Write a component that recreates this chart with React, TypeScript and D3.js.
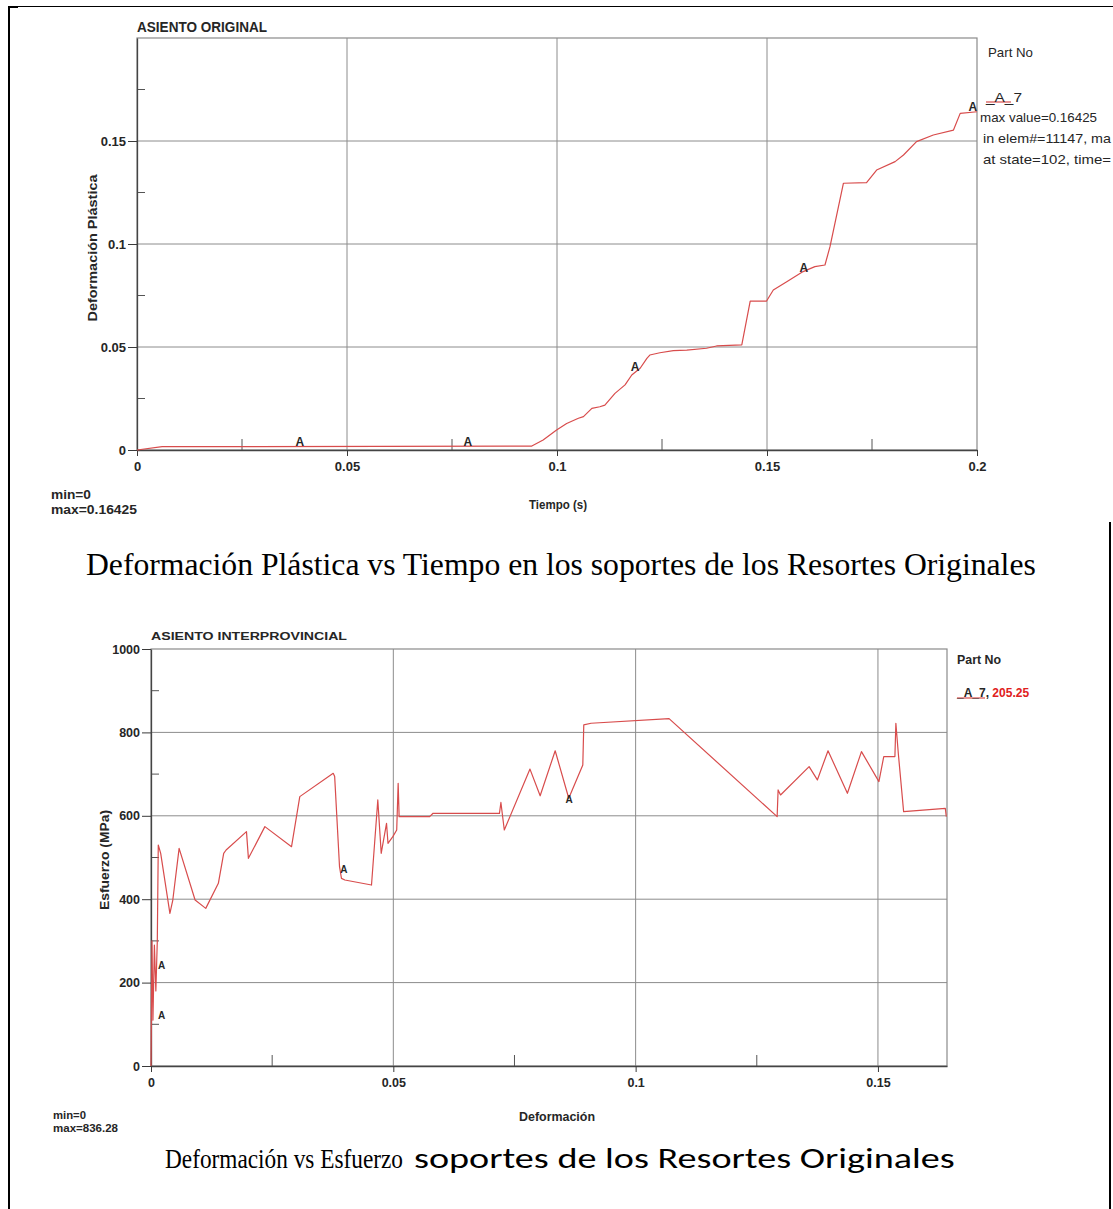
import React, { useRef, useEffect } from "react";
import * as d3 from "d3";

const W = 1113;
const H = 1209;

const NARROW = "'Liberation Sans Narrow', 'Arial Narrow', 'Liberation Sans', Arial, sans-serif";
const SANS = "'Liberation Sans', Arial, sans-serif";
const SERIF = "'Liberation Serif', 'Times New Roman', serif";
const CALIBRI = "Carlito, Lato, 'Open Sans', sans-serif";
const INK = "#262626";
const CURVE = "#d84c4c";

// --- panel 1: plastic strain vs time
const timeS = [0, 0.006, 0.094, 0.0967, 0.0999, 0.1023, 0.1051, 0.1063, 0.1083, 0.1102, 0.1114, 0.1138, 0.1162,
  0.1178, 0.1198, 0.1214, 0.1221, 0.1245, 0.1277, 0.1309, 0.1356, 0.138, 0.144,
  0.146, 0.1499, 0.1515, 0.1547, 0.1586, 0.1614, 0.1638, 0.165, 0.1682, 0.1737,
  0.1761, 0.1805, 0.1825, 0.1856, 0.1896, 0.1944, 0.196, 0.2];
const plasticStrain = [0, 0.0016, 0.0019, 0.0049, 0.0097, 0.0129, 0.0154, 0.0162, 0.0202, 0.021, 0.0218, 0.0275, 0.0316,
  0.0364, 0.0397, 0.0445, 0.0461, 0.0472, 0.0482, 0.0485, 0.0494, 0.0505, 0.051,
  0.0723, 0.0723, 0.0777, 0.0817, 0.0866, 0.089, 0.0898, 0.0987, 0.1295, 0.1298,
  0.1359, 0.14, 0.1432, 0.1497, 0.1529, 0.1553, 0.1634, 0.1642];
const topMarkerT = [0.0388, 0.0788, 0.1186, 0.1588, 0.199];
const topMarkerV = [0.0039, 0.0039, 0.0403, 0.0883, 0.1665];
const topXTicks = [0, 0.05, 0.1, 0.15, 0.2];
const topYTicks = [0, 0.05, 0.1, 0.15];
const topMinor = [0.025, 0.075, 0.125, 0.175];

// --- panel 2: stress vs strain
const strain = [0, 0.0002, 0.0004, 0.0007, 0.001, 0.0013, 0.0015, 0.002, 0.0039, 0.0045, 0.0058, 0.0091, 0.0113,
  0.0139, 0.015, 0.0155, 0.0197, 0.0201, 0.0235, 0.029, 0.0307, 0.0376, 0.0379, 0.0389, 0.0393, 0.04,
  0.0455, 0.0468, 0.0475, 0.0486, 0.0489, 0.0499, 0.0507, 0.051, 0.0512, 0.0575, 0.0582, 0.0719, 0.0722,
  0.0729, 0.0782, 0.0803, 0.0834, 0.0862, 0.0891, 0.0893, 0.0908, 0.1069, 0.1292, 0.1294, 0.1299, 0.1358,
  0.1375, 0.1397, 0.1437, 0.1466, 0.1502, 0.1512, 0.1535, 0.1537, 0.1542, 0.1553, 0.1639, 0.1641];
const stressMPa = [0, 300, 110, 290, 180, 300, 530, 510, 366, 398, 522, 398, 378,
  438, 510, 518, 562, 498, 574, 526, 646, 702, 694, 478, 450, 446,
  434, 638, 510, 582, 534, 550, 566, 678, 598, 598, 606, 606, 632,
  566, 712, 648, 756, 642, 722, 818, 822, 833, 598, 662, 650, 718,
  686, 756, 654, 754, 682, 742, 742, 822, 750, 610, 618, 598];
const botMarkerT = [0.0022, 0.0022, 0.0398, 0.0863];
const botMarkerV = [242, 122, 472, 638];
const botXTicks = [0, 0.05, 0.1, 0.15];
const botYTicks = [0, 200, 400, 600, 800, 1000];
const botXMinor = [0.025, 0.075, 0.125];
const botYMinor = [100, 300, 500, 700, 900];

type Sel = d3.Selection<SVGSVGElement, unknown, null, undefined>;

type Panel = {
  x: d3.ScaleLinear<number, number>;
  y: d3.ScaleLinear<number, number>;
  xs: number[];
  ys: number[];
  xTicks: number[];
  yTicks: number[];
  xMinor: number[];
  yMinor: number[];
  markT: number[];
  markV: number[];
  font: string;
  size: number;
  weight: string;
  markSize: number;
  xPad: number;
  yTick: number;
};

function drawPanel(svg: Sel, p: Panel) {
  const [x0, x1] = p.x.range();
  const [y0, y1] = p.y.range();
  const g = svg.append("g");

  // grid
  g.selectAll(".vg").data(p.xTicks.filter((d) => d > 0 && p.x(d) < x1 - 2)).join("line")
    .attr("x1", (d) => p.x(d)).attr("x2", (d) => p.x(d)).attr("y1", y0).attr("y2", y1)
    .attr("stroke", "#8c8c8c").attr("stroke-width", 1);
  g.selectAll(".hg").data(p.yTicks.filter((d) => d > 0 && p.y(d) > y1 + 2)).join("line")
    .attr("x1", x0).attr("x2", x1).attr("y1", (d) => p.y(d)).attr("y2", (d) => p.y(d))
    .attr("stroke", "#8c8c8c").attr("stroke-width", 1);

  // frame
  g.append("rect").attr("x", x0).attr("y", y1).attr("width", x1 - x0).attr("height", y0 - y1)
    .attr("fill", "none").attr("stroke", "#8a8a8a").attr("stroke-width", 1.2);

  // minor ticks (inward)
  g.selectAll(".mx").data(p.xMinor).join("line")
    .attr("x1", (d) => p.x(d)).attr("x2", (d) => p.x(d)).attr("y1", y0).attr("y2", y0 - 11)
    .attr("stroke", "#555");
  g.selectAll(".my").data(p.yMinor).join("line")
    .attr("x1", x0).attr("x2", x0 + 8).attr("y1", (d) => p.y(d)).attr("y2", (d) => p.y(d))
    .attr("stroke", "#555");

  // axes
  const ax = g.append("g").attr("transform", `translate(0,${y0})`)
    .call(d3.axisBottom(p.x).tickValues(p.xTicks).tickFormat((d) => String(d)).tickSize(6).tickSizeOuter(0).tickPadding(p.xPad));
  const ay = g.append("g").attr("transform", `translate(${x0},0)`)
    .call(d3.axisLeft(p.y).tickValues(p.yTicks).tickFormat((d) => String(d)).tickSize(p.yTick).tickSizeOuter(0).tickPadding(2));
  [ax, ay].forEach((a) => {
    a.attr("color", "#3a3a3a").attr("font-family", p.font).attr("font-size", p.size).attr("font-weight", p.weight);
    a.selectAll("text").attr("fill", INK);
    a.select(".domain").attr("stroke", "#444").attr("stroke-width", 1.3);
  });

  // curve
  const pts = p.xs.map((v, i) => [v, p.ys[i]] as [number, number]);
  g.append("path").datum(pts)
    .attr("d", d3.line<[number, number]>().x((d) => p.x(d[0])).y((d) => p.y(d[1])))
    .attr("fill", "none").attr("stroke", CURVE).attr("stroke-width", 1.2).attr("stroke-linejoin", "round");

  // "A" markers
  g.selectAll(".mk").data(p.markT.map((t, i) => [t, p.markV[i]])).join("text")
    .attr("x", (d) => p.x(d[0])).attr("y", (d) => p.y(d[1]))
    .attr("text-anchor", "middle").attr("dominant-baseline", "central")
    .attr("font-family", p.font).attr("font-size", p.markSize).attr("font-weight", "bold")
    .attr("fill", INK).text("A");
}

function label(svg: Sel, txt: string, x: number, y: number,
  o: { font?: string; size?: number; weight?: string; anchor?: string; rotate?: boolean; fill?: string; len?: number } = {}) {
  const t = svg.append("text")
    .attr("transform", o.rotate ? `translate(${x},${y}) rotate(-90)` : `translate(${x},${y})`)
    .attr("text-anchor", o.anchor ?? "start").attr("dominant-baseline", "central")
    .attr("font-family", o.font ?? NARROW).attr("font-size", o.size ?? 13)
    .attr("font-weight", o.weight ?? "normal").attr("fill", o.fill ?? INK).text(txt);
  if (o.len) t.attr("textLength", o.len).attr("lengthAdjust", "spacingAndGlyphs");
  return t;
}

// caption text squeezed/stretched to a given width with a transform
function caption(svg: Sel, txt: string, x: number, y: number, width: number, font: string, size: number) {
  const t = svg.append("text").attr("x", 0).attr("y", 0)
    .attr("font-family", font).attr("font-size", size).attr("fill", "#000").text(txt);
  const natural = (t.node() as SVGTextElement).getComputedTextLength() || width;
  t.attr("transform", `translate(${x},${y}) scale(${width / natural},1)`);
}

const App: React.FC = () => {
  const ref = useRef<SVGSVGElement>(null);

  useEffect(() => {
    if (!ref.current) return;
    const svg = d3.select(ref.current);
    svg.selectAll("*").remove();

    svg.append("rect").attr("width", W).attr("height", H).attr("fill", "#fff");

    // page border
    svg.append("line").attr("x1", 8).attr("x2", W).attr("y1", 6.5).attr("y2", 6.5).attr("stroke", "#000").attr("stroke-width", 1.2);
    svg.append("rect").attr("x", 8).attr("y", 6).attr("width", 10).attr("height", 2).attr("fill", "#000");
    svg.append("line").attr("x1", 9).attr("x2", 9).attr("y1", 6).attr("y2", H).attr("stroke", "#000").attr("stroke-width", 2);
    svg.append("line").attr("x1", 1110).attr("x2", 1110).attr("y1", 522).attr("y2", H).attr("stroke", "#000").attr("stroke-width", 2);

    // ---------- panel 1
    const x1 = d3.scaleLinear().domain([0, 0.2]).range([137, 977]);
    const y1 = d3.scaleLinear().domain([0, 0.2]).range([450, 38]);
    drawPanel(svg, {
      x: x1, y: y1, xs: timeS, ys: plasticStrain, xTicks: topXTicks, yTicks: topYTicks,
      xMinor: topMinor, yMinor: topMinor, markT: topMarkerT, markV: topMarkerV,
      font: NARROW, size: 13, weight: "bold", markSize: 12, xPad: 6, yTick: 9,
    });
    label(svg, "ASIENTO ORIGINAL", 137, 27, { weight: "bold", size: 14, len: 130 });
    label(svg, "Deformación Plástica", 92, 248, { weight: "bold", size: 13, anchor: "middle", rotate: true, len: 147 });
    label(svg, "Tiempo (s)", 558, 504, { weight: "bold", size: 13, anchor: "middle", len: 58 });
    label(svg, "min=0", 51, 494, { size: 13, weight: "bold", len: 40 });
    label(svg, "max=0.16425", 51, 509, { size: 13, weight: "bold", len: 86 });
    label(svg, "Part No", 988, 52, { size: 13, len: 45 });
    svg.append("line").attr("x1", 986).attr("x2", 1011).attr("y1", 102).attr("y2", 102).attr("stroke", CURVE).attr("stroke-width", 1.2);
    label(svg, "_A_7", 986, 97, { size: 13, len: 36 });
    label(svg, "max value=0.16425", 980, 117, { size: 13, len: 117 });
    label(svg, "in elem#=11147, ma", 983, 138, { size: 13, len: 128 });
    label(svg, "at state=102, time=", 983, 159, { size: 13, len: 128 });

    caption(svg, "Deformación Plástica vs Tiempo en los soportes de los Resortes Originales", 86, 575, 950, SERIF, 32);

    // ---------- panel 2
    const x2 = d3.scaleLinear().domain([0, 0.16425]).range([151, 947]);
    const y2 = d3.scaleLinear().domain([0, 1000]).range([1066, 649]);
    drawPanel(svg, {
      x: x2, y: y2, xs: strain, ys: stressMPa, xTicks: botXTicks, yTicks: botYTicks,
      xMinor: botXMinor, yMinor: botYMinor, markT: botMarkerT, markV: botMarkerV,
      font: SANS, size: 12.5, weight: "bold", markSize: 10, xPad: 6, yTick: 9,
    });
    label(svg, "ASIENTO INTERPROVINCIAL", 151, 636, { font: SANS, weight: "bold", size: 11.5, len: 196 });
    label(svg, "Esfuerzo (MPa)", 105, 860, { font: SANS, weight: "bold", size: 12, anchor: "middle", rotate: true, len: 100 });
    label(svg, "Deformación", 557, 1117, { font: SANS, weight: "bold", size: 12, anchor: "middle", len: 76 });
    label(svg, "min=0", 53, 1115, { font: SANS, weight: "bold", size: 11, len: 33 });
    label(svg, "max=836.28", 53, 1128, { font: SANS, weight: "bold", size: 11, len: 65 });
    label(svg, "Part No", 957, 660, { font: SANS, weight: "bold", size: 12, len: 44 });
    svg.append("line").attr("x1", 957).attr("x2", 985).attr("y1", 698).attr("y2", 698).attr("stroke", CURVE).attr("stroke-width", 1.2);
    const leg = label(svg, "_A_7, ", 957, 693, { font: SANS, weight: "bold", size: 12 });
    leg.append("tspan").attr("fill", "#e02020").text("205.25");

    caption(svg, "Deformación vs Esfuerzo", 165, 1168, 238, SERIF, 28);
    caption(svg, "soportes de los Resortes Originales", 414, 1168, 541, CALIBRI, 29);
  }, []);

  return (
    <svg
      ref={ref}
      width={W}
      height={H}
      style={{ position: "absolute", left: 0, top: 0, display: "block" }}
    />
  );
};

export default App;
